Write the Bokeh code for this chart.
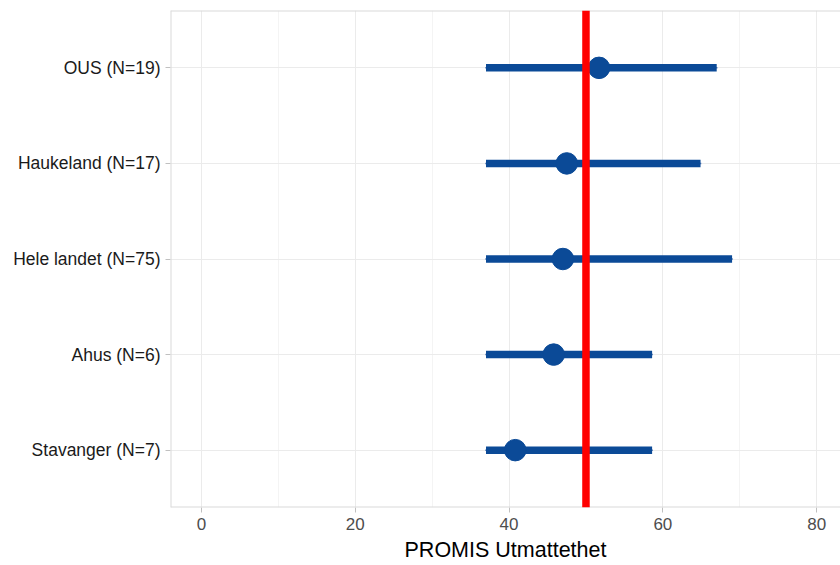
from bokeh.plotting import figure
from bokeh.models import ColumnDataSource, Span, FixedTicker, Range1d
from bokeh.embed import file_html
from bokeh.resources import INLINE

# Data (bottom to top)
labels = ["Stavanger (N=7)", "Ahus (N=6)", "Hele landet (N=75)", "Haukeland (N=17)", "OUS (N=19)"]
mean = [40.8, 45.8, 47.0, 47.5, 51.7]
lower = [37.0, 37.0, 37.0, 37.0, 37.0]
upper = [58.6, 58.6, 69.0, 64.9, 67.0]
ref_value = 50
x_ticks = [0, 20, 40, 60, 80]
x_minor = [10, 30, 50, 70]

ypos = list(range(1, len(labels) + 1))
src = ColumnDataSource(dict(y=ypos, mean=mean, lower=lower, upper=upper, label=labels))

X0, X1, Y0, Y1 = -4.03, 83.1, 0.4, 5.6
p = figure(width=840, height=565, output_backend="svg", toolbar_location=None,
           x_range=Range1d(X0, X1), y_range=Range1d(Y0, Y1),
           min_border_left=170, min_border_right=0, min_border_top=10, min_border_bottom=58)

p.background_fill_color = "white"
p.outline_line_color = None

BORDER = "#d9d9d9"
for loc, dim in [(Y1, "width"), (Y0, "width"), (X0, "height")]:
    p.add_layout(Span(location=loc, dimension=dim, line_color=BORDER, line_width=2))

BLUE = "#0B4A97"
p.segment(x0="lower", x1="upper", y0="y", y1="y", source=src, line_width=1.5,
          line_color="#5a7fb8", line_cap="square")
p.segment(x0="lower", x1="upper", y0="y", y1="y", source=src, line_width=7.5,
          line_color=BLUE, line_cap="butt")
p.scatter(x="mean", y="y", source=src, size=21.5, marker="circle",
          fill_color=BLUE, line_color=BLUE)
p.add_layout(Span(location=ref_value, dimension="height", line_color="#FF0000", line_width=7.5))

# grids
p.xgrid.ticker = FixedTicker(ticks=x_ticks, minor_ticks=x_minor)
p.xgrid.grid_line_color = "#ebebeb"
p.xgrid.minor_grid_line_color = "#f4f4f4"
p.ygrid.ticker = FixedTicker(ticks=ypos)
p.ygrid.grid_line_color = "#ebebeb"

# x axis
p.xaxis.ticker = FixedTicker(ticks=x_ticks, minor_ticks=[])
p.xaxis.axis_label = "PROMIS Utmattethet"
p.xaxis.axis_label_text_font = "Liberation Sans"
p.xaxis.axis_label_text_font_style = "normal"
p.xaxis.axis_label_text_font_size = "21.5px"
p.xaxis.axis_label_text_color = "#000000"
p.xaxis.axis_label_standoff = 5
p.xaxis.major_label_text_font = "Liberation Sans"
p.xaxis.major_label_text_font_size = "17px"
p.xaxis.major_label_text_color = "#4d4d4d"
p.xaxis.axis_line_color = None
p.xaxis.major_tick_line_color = "#c0c0c0"
p.xaxis.major_tick_in = 0
p.xaxis.major_tick_out = 5
p.xaxis.minor_tick_line_color = None
p.xaxis.major_label_standoff = 5

# y axis
p.yaxis.ticker = FixedTicker(ticks=ypos, minor_ticks=[])
p.yaxis.major_label_overrides = {y: l for y, l in zip(ypos, labels)}
p.yaxis.major_label_text_font = "Liberation Sans"
p.yaxis.major_label_text_font_size = "17.5px"
p.yaxis.major_label_text_color = "#1a1a1a"
p.yaxis.axis_line_color = None
p.yaxis.major_tick_line_color = "#c0c0c0"
p.yaxis.major_tick_in = 0
p.yaxis.major_tick_out = 5
p.yaxis.minor_tick_line_color = None
p.yaxis.major_label_standoff = 5

open("out.html", "w").write(file_html(p, INLINE))
